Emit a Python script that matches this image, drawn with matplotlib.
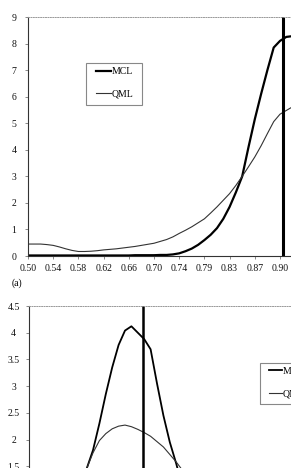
import matplotlib
matplotlib.use("Agg")
import matplotlib.pyplot as plt
from matplotlib.patches import Rectangle

plt.rcParams['font.family'] = ['Liberation Serif', 'DejaVu Serif']

# ---------------- data (panel a) ----------------
# positions on the category axis (one category = one grid point, labels every 4th)
top_x = list(range(0, 43))
top_tick_pos = [0, 4, 8, 12, 16, 20, 24, 28, 32, 36, 40]
top_tick_labels = ["0.50", "0.54", "0.58", "0.62", "0.66", "0.70", "0.74",
                   "0.79", "0.83", "0.87", "0.90"]
top_mcl = [0.02, 0.02, 0.02, 0.02, 0.02, 0.02, 0.02, 0.02, 0.02, 0.02,
           0.02, 0.02, 0.02, 0.02, 0.02, 0.02, 0.02, 0.03, 0.03, 0.03,
           0.03, 0.04, 0.04, 0.06, 0.10, 0.18, 0.28, 0.42, 0.60, 0.80,
           1.05, 1.40, 1.85, 2.40, 3.00, 4.10, 5.15, 6.10, 7.00, 7.85,
           8.10, 8.25, 8.28]
top_qml = [0.45, 0.45, 0.45, 0.43, 0.40, 0.34, 0.27, 0.21, 0.17, 0.17,
           0.18, 0.20, 0.23, 0.25, 0.27, 0.30, 0.33, 0.36, 0.40, 0.44,
           0.48, 0.55, 0.62, 0.72, 0.85, 0.97, 1.10, 1.25, 1.40, 1.62,
           1.85, 2.10, 2.35, 2.66, 3.00, 3.36, 3.73, 4.15, 4.61, 5.06,
           5.34, 5.48, 5.62]
top_true = 40.4
top_yticks = [0, 1, 2, 3, 4, 5, 6, 7, 8, 9]

# ---------------- data (panel b) ----------------
bot_x = list(range(6, 27))
bot_mcl = [0.55, 0.85, 1.20, 1.45, 1.80, 2.30, 2.85, 3.35, 3.77, 4.04,
           4.12, 4.00, 3.88, 3.69, 3.05, 2.45, 1.95, 1.55, 1.10, 0.75, 0.45]
bot_qml = [0.80, 1.00, 1.22, 1.45, 1.75, 1.98, 2.11, 2.20, 2.25, 2.27,
           2.24, 2.19, 2.13, 2.06, 1.96, 1.86, 1.72, 1.58, 1.42, 1.25, 1.08]
bot_true = 17.86
bot_yticks = [1.5, 2, 2.5, 3, 3.5, 4, 4.5]
bot_ytick_labels = ["1.5", "2", "2.5", "3", "3.5", "4", "4.5"]

series_names = ["MCL", "QML"]

W, H = 291, 468
fig = plt.figure(figsize=(W / 100, H / 100), dpi=100)
fig.patch.set_facecolor("white")

def px_axes(left, top, bottom, width):
    return fig.add_axes([left / W, (H - bottom) / H, width / W, (bottom - top) / H])

def style(ax):
    ax.spines["right"].set_visible(False)
    ax.spines["top"].set_linestyle((0, (1, 1.5)))
    ax.spines["top"].set_color("#999999")
    ax.spines["top"].set_linewidth(0.7)
    ax.spines["left"].set_color("#333333")
    ax.spines["left"].set_linewidth(0.8)
    ax.spines["bottom"].set_color("#333333")
    ax.spines["bottom"].set_linewidth(0.8)
    ax.tick_params(axis="both", direction="out", length=2.5, width=0.6,
                   color="#777777", labelsize=7, labelcolor="#111111")

def legend_box(ax, handles, x0, y0, x1, y1, hx, hy, hlen):
    # frame drawn in figure pixels, entries placed by the legend
    fig.patches.append(Rectangle((x0 / W, (H - y1) / H), (x1 - x0) / W, (y1 - y0) / H,
                                 transform=fig.transFigure, fill=False,
                                 edgecolor="#888888", linewidth=0.8))
    leg = ax.legend(handles, series_names, loc="center left",
                    bbox_to_anchor=(hx / W, (H - hy) / H), bbox_transform=fig.transFigure,
                    frameon=False, fontsize=7, handlelength=hlen,
                    handletextpad=0.1, labelspacing=1.4, borderpad=0,
                    borderaxespad=0)
    return leg

# ---- top panel ----
ax1 = px_axes(28, 17, 256, 44 * 6.3)
ax1.set_xlim(0, 44)
ax1.set_ylim(0, 9)
style(ax1)
l1, = ax1.plot(top_x, top_mcl, color="black", lw=1.6, solid_joinstyle="round")
l2, = ax1.plot(top_x, top_qml, color="#333333", lw=0.8)
ax1.axvline(top_true, color="black", lw=2.2)
ax1.set_xticks(top_tick_pos)
ax1.set_xticklabels(top_tick_labels)
ax1.set_yticks(top_yticks)
ax1.set_yticklabels([str(v) for v in top_yticks], ha="center")
ax1.tick_params(axis="y", pad=7.5)
ax1.tick_params(axis="x", pad=3)
legend_box(ax1, [l1, l2], 86, 63, 142, 105, 95.7, 83, 1.57)

fig.text(17 / W, (H - 283) / H, "(a)", fontsize=7, ha="center", va="center")

# ---- bottom panel ----
ax2 = px_axes(29, 306, 306 + 4.5 * 53.4, 44 * 6.4)
ax2.set_xlim(0, 44)
ax2.set_ylim(0, 4.5)
style(ax2)
m1, = ax2.plot(bot_x, bot_mcl, color="black", lw=1.3)
m2, = ax2.plot(bot_x, bot_qml, color="#333333", lw=0.8)
ax2.axvline(bot_true, color="black", lw=1.8)
ax2.set_xticks([])
ax2.set_yticks(bot_yticks)
ax2.set_yticklabels(bot_ytick_labels, ha="center")
ax2.tick_params(axis="y", pad=8.5)
legend_box(ax2, [m1, m2], 260, 363, 320, 404, 269.3, 382.7, 1.28)

fig.savefig("out.png", dpi=100, facecolor="white")
